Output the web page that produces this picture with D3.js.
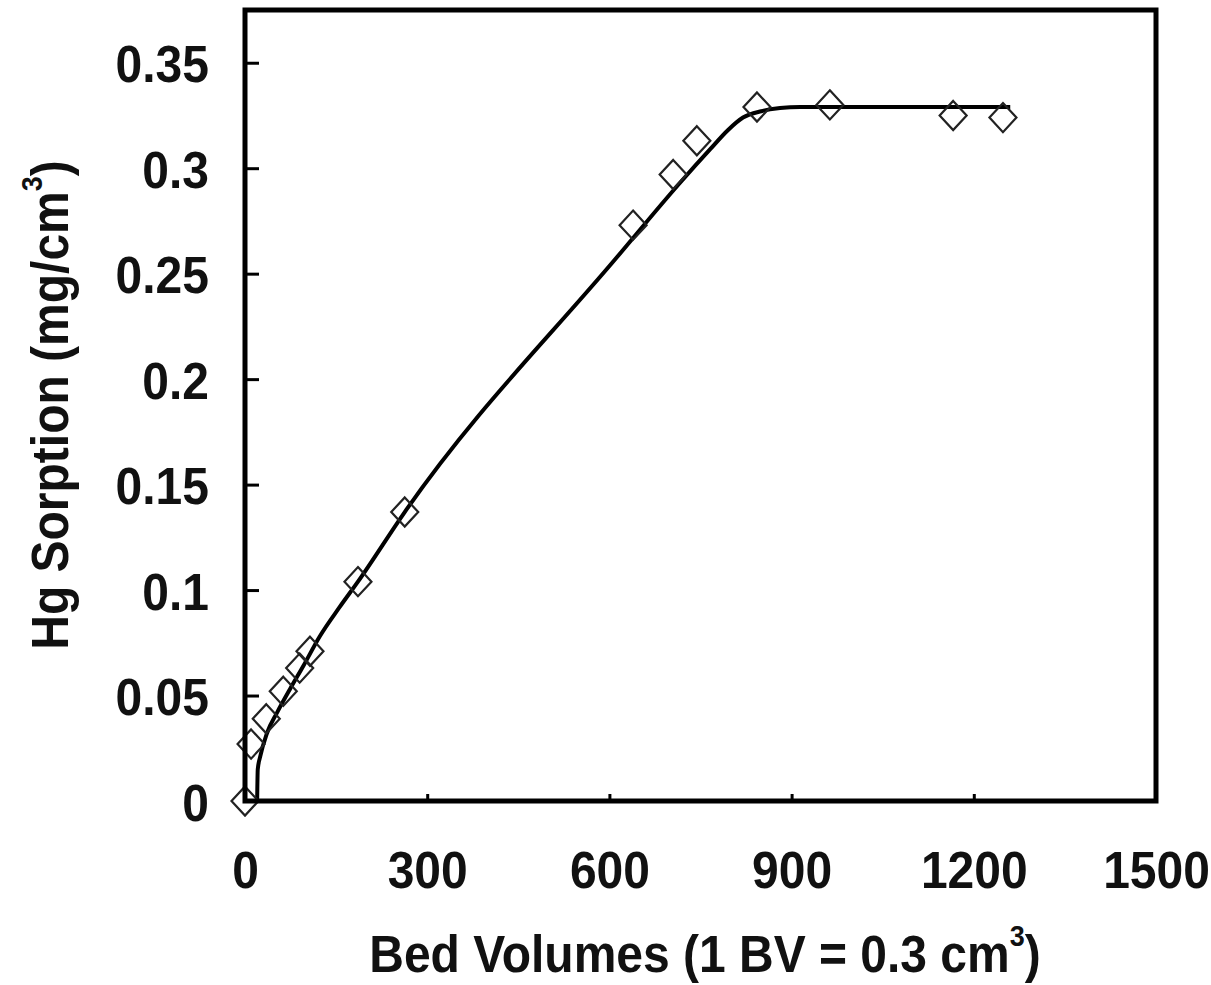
<!DOCTYPE html>
<html>
<head>
<meta charset="utf-8">
<script src="https://cdn.jsdelivr.net/npm/d3@7"></script>
<style>
  html, body { margin: 0; padding: 0; background: #fff; }
  svg { display: block; }
  text { font-family: "Liberation Sans", Arial, Helvetica, sans-serif; font-weight: bold; fill: #111; }
</style>
</head>
<body>
<svg id="chart" width="1211" height="985"></svg>
<script>
// ---- data ----
const pointBV = [0, 10, 35, 63, 90, 107, 186, 263, 639, 705, 744, 843, 963, 1166, 1248];
const pointHg = [0, 0.027, 0.039, 0.052, 0.063, 0.071, 0.104, 0.137, 0.273, 0.297, 0.313, 0.329, 0.330, 0.325, 0.324];

const curveBV = [20, 21, 25, 36, 53, 74, 96, 123, 156, 186, 263, 613, 716, 766, 795, 820, 850, 881, 914, 991, 1260];
const curveHg = [0, 0.015, 0.021, 0.032, 0.042, 0.053, 0.064, 0.078, 0.092, 0.104, 0.137, 0.258, 0.293, 0.309, 0.318, 0.324, 0.327, 0.3285, 0.329, 0.329, 0.329];

const xTickValues = [0, 300, 600, 900, 1200, 1500];
const xTickLabels = ["0", "300", "600", "900", "1200", "1500"];
const yTickValues = [0, 0.05, 0.1, 0.15, 0.2, 0.25, 0.3, 0.35];
const yTickLabels = ["0", "0.05", "0.1", "0.15", "0.2", "0.25", "0.3", "0.35"];

const xTitle = "Bed Volumes (1 BV = 0.3 cm";
const yTitle = "Hg Sorption (mg/cm";

// ---- layout ----
const svg = d3.select("#chart");
const plot = { left: 245, top: 10, right: 1156, bottom: 801 };
const fontSize = 48;
const stretch = 1.08;

svg.append("rect").attr("width", 1211).attr("height", 985).attr("fill", "#fff");

const x = d3.scaleLinear().domain([0, 1500]).range([plot.left, plot.right]);
const y = d3.scaleLinear().domain([0, 0.375]).range([plot.bottom, plot.top]);

// ---- axes (ticks inside) ----
const xAxis = d3.axisBottom(x)
  .tickValues(xTickValues)
  .tickFormat((d, i) => xTickLabels[i])
  .tickSizeInner(-7).tickSizeOuter(0).tickPadding(0);
const gx = svg.append("g").attr("transform", `translate(0,${plot.bottom})`).call(xAxis);
gx.select(".domain").remove();
gx.selectAll(".tick line").attr("stroke", "#000").attr("stroke-width", 3)
  .filter(d => d === 0 || d === 1500).remove();
gx.selectAll(".tick text")
  .attr("y", null).attr("dy", null)
  .attr("font-size", fontSize)
  .attr("fill", "#111")
  .attr("transform", `translate(0,87) scale(1,${stretch})`);

const yAxis = d3.axisLeft(y)
  .tickValues(yTickValues)
  .tickFormat((d, i) => yTickLabels[i])
  .tickSizeInner(-14).tickSizeOuter(0).tickPadding(0);
const gy = svg.append("g").attr("transform", `translate(${plot.left},0)`).call(yAxis);
gy.select(".domain").remove();
gy.selectAll(".tick line").attr("stroke", "#000").attr("stroke-width", 3)
  .filter(d => d === 0).remove();
gy.selectAll(".tick text")
  .attr("x", null).attr("dy", null)
  .attr("font-size", fontSize)
  .attr("fill", "#111")
  .attr("text-anchor", "end")
  .attr("transform", `translate(-36,19) scale(1,${stretch})`);

// ---- fitted curve ----
const curveData = curveBV.map((v, i) => [v, curveHg[i]]);
svg.append("path")
  .datum(curveData)
  .attr("fill", "none")
  .attr("stroke", "#000")
  .attr("stroke-width", 4)
  .attr("stroke-linejoin", "round")
  .attr("d", d3.line().x(d => x(d[0])).y(d => y(d[1])).curve(d3.curveMonotoneX));

// ---- diamond markers ----
const diamond = {
  draw(ctx, size) {
    const w = Math.sqrt(size) * 0.5, h = w * 1.08;
    ctx.moveTo(0, -h); ctx.lineTo(w, 0); ctx.lineTo(0, h); ctx.lineTo(-w, 0); ctx.closePath();
  }
};
const pts = pointBV.map((v, i) => [v, pointHg[i]]);
svg.append("g").selectAll("path")
  .data(pts)
  .join("path")
  .attr("transform", d => `translate(${x(d[0])},${y(d[1])})`)
  .attr("d", d3.symbol().type(diamond).size(27 * 27))
  .attr("fill", "none")
  .attr("stroke", "#222")
  .attr("stroke-width", 2.2);

// ---- frame ----
svg.append("rect")
  .attr("x", plot.left).attr("y", plot.top)
  .attr("width", plot.right - plot.left).attr("height", plot.bottom - plot.top)
  .attr("fill", "none").attr("stroke", "#000").attr("stroke-width", 5);

// ---- titles ----
const xt = svg.append("text")
  .attr("text-anchor", "middle")
  .attr("font-size", fontSize)
  .attr("transform", `translate(705,972) scale(1,${stretch})`);
xt.append("tspan").text(xTitle);
xt.append("tspan").attr("font-size", 27).attr("dy", -24).text("3");
xt.append("tspan").attr("dy", 24).text(")");

const yt = svg.append("text")
  .attr("text-anchor", "middle")
  .attr("font-size", fontSize)
  .attr("transform", `translate(68,405) rotate(-90) scale(1,${stretch})`);
yt.append("tspan").text(yTitle);
yt.append("tspan").attr("font-size", 27).attr("dy", -24).text("3");
yt.append("tspan").attr("dy", 24).text(")");
</script>
</body>
</html>
